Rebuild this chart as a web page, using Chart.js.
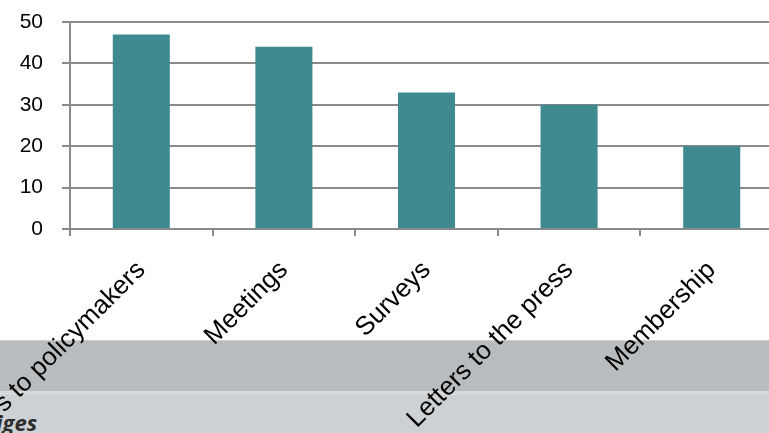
<!DOCTYPE html>
<html>
<head>
<meta charset="utf-8">
<script src="https://cdn.jsdelivr.net/npm/chart.js@4.4.1/dist/chart.umd.min.js"></script>
<style>
  html, body { margin: 0; padding: 0; width: 769px; height: 433px; overflow: hidden; background: #fff; }
  #band1 { position: absolute; left: 0; top: 340px; width: 769px; height: 51px; background: #b9bcbf; border-top: 1px solid #cfd1d3; }
  #band2 { position: absolute; left: 0; top: 391px; width: 769px; height: 42px; background: #ced1d4; border-top: 4px solid #d7d9db; }
  #slideText { position: absolute; left: -4px; top: 407px; font: italic bold 22px "Open Sans", sans-serif; color: #2e2e2e; }
  #salesChart { position: absolute; left: 0; top: 0; }
</style>
</head>
<body>
<div id="band1"></div>
<div id="band2"></div>
<div id="slideText">iges</div>
<canvas id="salesChart" width="790" height="433"></canvas>
<script>
// data
const categories = ['Letters to policymakers', 'Meetings', 'Surveys', 'Letters to the press', 'Membership'];
const values = [47, 44, 33, 30, 20];
const yTicks = [0, 10, 20, 30, 40, 50];

const gridGray = '#8a8a8a';

const ctx = document.getElementById('salesChart').getContext('2d');
const chart = new Chart(ctx, {
    type: 'bar',
    data: {
        labels: categories,
        datasets: [{
            data: values,
            backgroundColor: '#3e8a8f',
            borderWidth: 0,
            categoryPercentage: 1,
            barPercentage: 0.4
        }]
    },
    options: {
        responsive: false,
        animation: false,
        events: [],
        layout: { padding: { top: 22, right: 7, bottom: 0, left: 0 } },
        plugins: {
            legend: { display: false },
            tooltip: { enabled: false }
        },
        scales: {
            x: {
                grid: {
                    offset: true,
                    drawOnChartArea: false,
                    drawTicks: true,
                    tickLength: 7,
                    color: gridGray,
                    lineWidth: 2
                },
                border: { color: gridGray, width: 2 },
                ticks: {
                    autoSkip: false,
                    minRotation: 45,
                    maxRotation: 45,
                    padding: 19,
                    color: '#000',
                    font: { family: 'Liberation Sans, Arial, sans-serif', size: 26 }
                },
                afterFit: (scale) => {
                    scale.height = 204;
                    scale.paddingLeft = 0;
                    scale.paddingRight = 0;
                }
            },
            y: {
                min: 0,
                max: 50,
                afterBuildTicks: (scale) => {
                    scale.ticks = yTicks.map(v => ({ value: v }));
                },
                grid: {
                    drawTicks: true,
                    tickLength: 8,
                    color: gridGray,
                    lineWidth: 2
                },
                border: { color: gridGray, width: 2 },
                ticks: {
                    padding: 19,
                    color: '#000',
                    font: { family: 'Liberation Sans, Arial, sans-serif', size: 21 }
                },
                afterFit: (scale) => {
                    scale.width = 70;
                    scale.paddingTop = 0;
                    scale.paddingBottom = 0;
                }
            }
        }
    }
});
</script>
</body>
</html>
